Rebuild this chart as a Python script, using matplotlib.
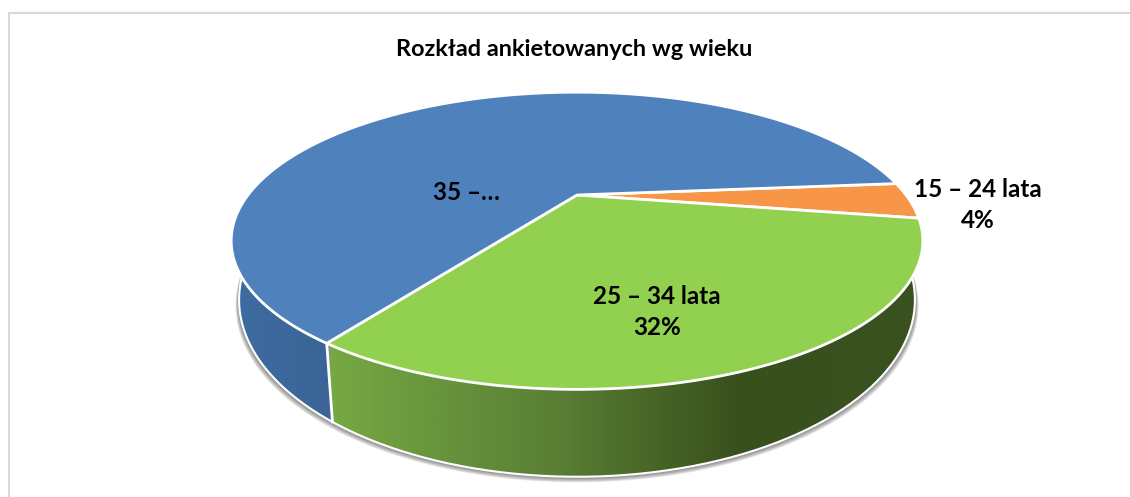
#!/usr/bin/env python3
"""Perspective 3D pie: age distribution of respondents."""

import numpy as np
import matplotlib
matplotlib.use("Agg")
import matplotlib.pyplot as plt
from matplotlib.colors import LinearSegmentedColormap
from matplotlib.patches import Polygon

plt.rcParams['font.family'] = ['Lato', 'DejaVu Sans']

TITLE = 'Rozkład ankietowanych wg wieku'
CATEGORIES = ['15 – 24 lata', '25 – 34 lata', '35 – …']
SHARES = [4, 32, 64]
LABELS = ['15 – 24 lata\n4%', '25 – 34 lata\n32%', '35 –…']
TOP_COLORS = ['#f79646', '#92d050', '#4f81bd']

START_ANGLE = 5
W, H = 1130, 497
PERSPECTIVE = 0.308

# apex x/y, half axes of the projected discs, in pixels
TOP_DISC = (577, 195, 329, 134.5)
BOTTOM_DISC = (577, 245.4, 321.5, 160.1)


def project(theta, disc):
    cx, cy, a, b = disc
    x, y = np.cos(theta), np.sin(theta)
    w = 1 + PERSPECTIVE * y
    return cx + a * x / w, cy - b * y / w


def arc(a1, a2, disc, n=200):
    return np.column_stack(project(np.radians(np.linspace(a1, a2, n)), disc))


def side(ax, a1, a2, xs, colors):
    pts = np.vstack([arc(a1, a2, TOP_DISC), arc(a2, a1, BOTTOM_DISC)])
    poly = Polygon(pts, closed=True, fc='none', ec='none', zorder=2)
    ax.add_patch(poly)
    stops = [(x - xs[0]) / (xs[-1] - xs[0]) for x in xs]
    cmap = LinearSegmentedColormap.from_list('s', list(zip(stops, colors)))
    grad = np.linspace(0, 1, 512).reshape(1, -1)
    im = ax.imshow(grad, cmap=cmap, extent=(xs[0], xs[-1], H, 0), aspect='auto', zorder=2)
    im.set_clip_path(poly)


fig = plt.figure(figsize=(W / 100, H / 100), dpi=100)
ax = fig.add_axes([0, 0, 1, 1])

# wedge angles follow from the shares, clockwise from the start angle
edges = START_ANGLE - np.cumsum([0] + SHARES) * 3.6

# soft shadow under the lower rim
full = arc(0, 360, BOTTOM_DISC, 400)
for i in range(1, 8):
    shadow = full.copy()
    shadow[:, 1] += i * 0.8
    shadow[:, 0] = 577 + (shadow[:, 0] - 577) * (1 + i * 0.0015)
    ax.add_patch(Polygon(shadow, closed=True, fc='#404040', ec='none', alpha=0.12, zorder=1))

side(ax, edges[1], edges[2], [330, 550, 740, 925],
     ['#76a844', '#5a8035', '#38501c', '#3a5220'])
side(ax, edges[2], edges[3], [225, 340], ['#3e6ca3', '#3a6494'])

# white rim along the bottom and the seam between the side faces
rim = arc(edges[1], edges[3], BOTTOM_DISC, 400)
ax.plot(rim[:, 0], rim[:, 1], color='white', lw=1.5, zorder=3)
seam = np.vstack([arc(edges[2], edges[2], TOP_DISC, 2)[0], arc(edges[2], edges[2], BOTTOM_DISC, 2)[0]])
ax.plot(seam[:, 0], seam[:, 1], color='white', lw=2, zorder=3)

for a1, a2, color in zip(edges[:-1], edges[1:], TOP_COLORS):
    pts = np.vstack([[TOP_DISC[0], TOP_DISC[1]], arc(a1, a2, TOP_DISC)])
    ax.add_patch(Polygon(pts, closed=True, fc=color, ec='white', lw=2, joinstyle='round', zorder=4))

ax.text(574, 50, TITLE, ha='center', va='center', fontsize=16.9, fontweight='bold', color='black', zorder=6)
label_xy = [(978, 205), (657, 312), (466, 192)]
for (x, y), label in zip(label_xy, LABELS):
    ax.text(x, y, label, ha='center', va='center', fontsize=17.5, fontweight='bold',
            color='black', linespacing=1.45, zorder=6)

# chart frame, only top and left fall inside the crop
ax.plot([8.5, 8.5, W], [H, 12.5, 12.5], color='#d9d9d9', lw=1.5, zorder=5)

ax.set_xlim(0, W)
ax.set_ylim(H, 0)
ax.axis('off')

fig.savefig('out.png', dpi=100, facecolor='white')
